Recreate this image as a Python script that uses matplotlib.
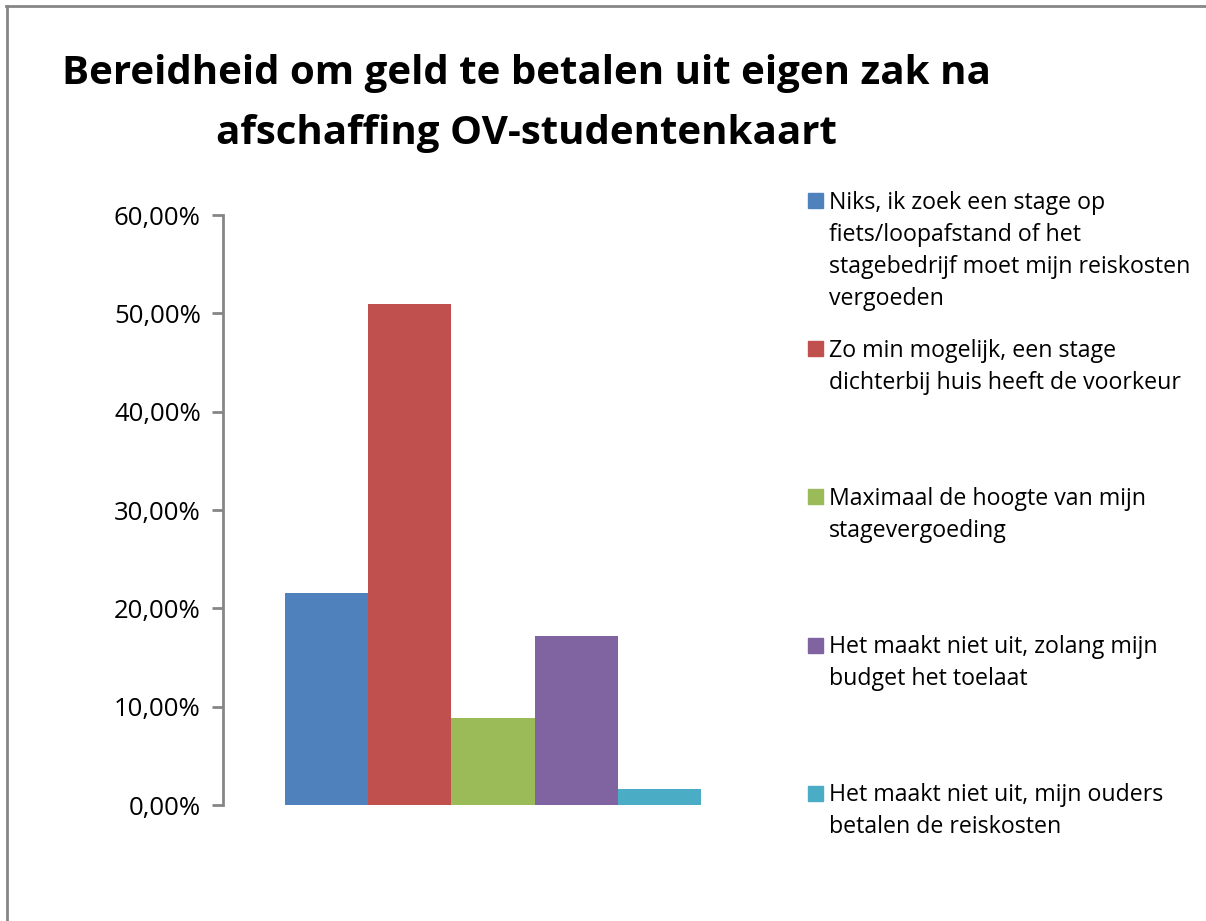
import matplotlib.pyplot as plt
from matplotlib.patches import Rectangle
from matplotlib.lines import Line2D
from matplotlib.ticker import FuncFormatter

# Data for the plot
answers = [
    'Niks, ik zoek een stage op\nfiets/loopafstand of het\nstagebedrijf moet mijn reiskosten\nvergoeden',
    'Zo min mogelijk, een stage\ndichterbij huis heeft de voorkeur',
    'Maximaal de hoogte van mijn\nstagevergoeding',
    'Het maakt niet uit, zolang mijn\nbudget het toelaat',
    'Het maakt niet uit, mijn ouders\nbetalen de reiskosten',
]
shares = [0.2153, 0.5091, 0.0889, 0.1714, 0.0165]
colors = ['#4F81BD', '#C0504D', '#9BBB59', '#8064A2', '#4BACC6']
title = 'Bereidheid om geld te betalen uit eigen zak na\nafschaffing OV-studentenkaart'

W, H = 1206, 921
fig = plt.figure(figsize=(W / 100, H / 100), dpi=100)

# plot area in pixel coords
left, right, top, bottom = 223, 763, 215, 805
ax = fig.add_axes([left / W, 1 - bottom / H, (right - left) / W, (bottom - top) / H])

positions = [i - 2 for i in range(len(shares))]
ax.bar(positions, shares, width=1.0, color=colors, align='center')
ax.set_xlim(-3.25, 3.25)
ax.set_ylim(0, 0.6)
ax.set_yticks([i / 10 for i in range(7)])
ax.yaxis.set_major_formatter(FuncFormatter(lambda v, p: f'{v * 100:.2f}%'.replace('.', ',')))
ax.set_xticks([])

for s in ['top', 'right', 'bottom']:
    ax.spines[s].set_visible(False)
ax.spines['left'].set_color('#868686')
ax.spines['left'].set_linewidth(2)
ax.tick_params(axis='y', length=8, width=2, color='#868686', pad=8,
               labelsize=18.5, labelcolor='black')
for lbl in ax.get_yticklabels():
    lbl.set_fontfamily('Open Sans')

# title
fig.text(526 / W, 1 - 103 / H, title, ha='center', va='center', fontsize=29,
         fontweight='bold', family='Open Sans', linespacing=1.7)

# legend, drawn by hand: one slot per entry
for i, (lab, col) in enumerate(zip(answers, colors)):
    y0 = 201 + i * 148
    fig.patches.append(Rectangle((808 / W, 1 - (y0 + 7.5) / H), 15 / W, 15 / H,
                                 transform=fig.transFigure, color=col))
    fig.text(829 / W, 1 - (y0 - 10) / H, lab, ha='left', va='top', fontsize=16.7,
             family='Open Sans', linespacing=1.45)

# chart frame (cropped at right and bottom)
fig.lines.append(Line2D([6 / W, 1], [1 - 6 / H, 1 - 6 / H], transform=fig.transFigure,
                        color='#868686', linewidth=2))
fig.lines.append(Line2D([7 / W, 7 / W], [0, 1 - 6 / H], transform=fig.transFigure,
                        color='#868686', linewidth=2))

fig.savefig('out.png', dpi=100)
